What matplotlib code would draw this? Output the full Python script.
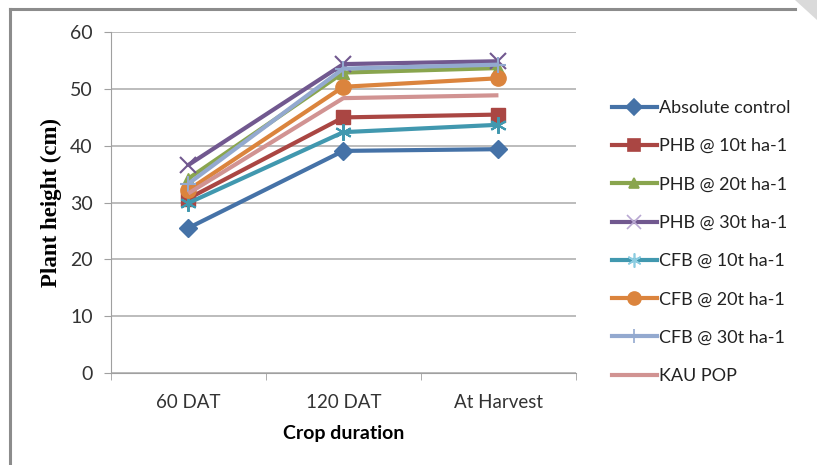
import matplotlib
matplotlib.use("Agg")
import matplotlib.pyplot as plt
from matplotlib.lines import Line2D
from matplotlib.patches import Polygon

categories = ["60 DAT", "120 DAT", "At Harvest"]
series_names = ["Absolute control", "PHB @ 10t ha-1", "PHB @ 20t ha-1", "PHB @ 30t ha-1",
                "CFB @ 10t ha-1", "CFB @ 20t ha-1", "CFB @ 30t ha-1", "KAU POP"]
absolute_control = [25.5, 39.1, 39.4]
phb_10 = [30.7, 45.0, 45.5]
phb_20 = [34.2, 52.9, 53.7]
phb_30 = [36.6, 54.4, 54.9]
cfb_10 = [29.9, 42.4, 43.7]
cfb_20 = [32.2, 50.4, 51.9]
cfb_30 = [33.3, 53.6, 54.3]
kau_pop = [31.6, 48.4, 48.9]
values = [absolute_control, phb_10, phb_20, phb_30, cfb_10, cfb_20, cfb_30, kau_pop]

colors = ["#4572A7", "#AA4643", "#89A54E", "#71588F", "#4198AF", "#DB843D", "#93A9CF", "#D19392"]
markers = ["D", "s", "^", "x", (6, 2, 0), "o", "+", None]
msizes = [9, 10, 9, 12, 12, 11, 12, 0]
mfc_legend = [None, None, None, "#B9A8D2", "#8CCCE0", None, None, None]

fig = plt.figure(figsize=(8.17, 4.65), dpi=100)
ax = fig.add_axes([0.1355, 0.1985, 0.5695, 0.732])

x = list(range(len(categories)))
for i, (name, vals) in enumerate(zip(series_names, values)):
    kw = dict(color=colors[i], lw=3, solid_capstyle="butt", zorder=3 + i)
    if markers[i] is not None:
        kw.update(marker=markers[i], markersize=msizes[i],
                  markeredgewidth=1.5 if markers[i] in ("x", "+") or isinstance(markers[i], tuple) else 1,
                  markeredgecolor=colors[i], markerfacecolor=colors[i])
    ax.plot(x, vals, **kw)

ax.set_xlim(-0.5, 2.5)
ax.set_ylim(0, 60)
ax.set_yticks(range(0, 61, 10))
ax.set_xticks(x)
ax.set_xticklabels(categories)
ax.set_xticks([-0.5, 0.5, 1.5, 2.5], minor=True)
ax.tick_params(axis="x", which="major", length=0, pad=15, labelsize=13.5, colors="#333333")
ax.tick_params(axis="x", which="minor", length=5, color="#A0A0A0")
ax.tick_params(axis="y", length=5, color="#A0A0A0", labelsize=14, colors="#333333", pad=8)
for lab in ax.get_xticklabels() + ax.get_yticklabels():
    lab.set_fontfamily("Lato")
ax.grid(axis="y", color="#B0B0B0", lw=1.2)
ax.set_axisbelow(True)
for s in ["top", "right"]:
    ax.spines[s].set_visible(False)
ax.spines["left"].set_color("#A0A0A0")
ax.spines["bottom"].set_color("#A0A0A0")

ax.set_xlabel("Crop duration", fontfamily="Lato", fontweight="bold", fontsize=14)
ax.set_ylabel("Plant height (cm)", fontfamily="Liberation Serif", fontweight="bold", fontsize=16.5)
ax.xaxis.set_label_coords(0.5, -0.154)
ax.yaxis.set_label_coords(-0.104, 0.5)

handles = []
for i in range(len(series_names)):
    m = markers[i]
    h = Line2D([0], [0], color=colors[i], lw=3,
               marker=m if m is not None else None,
               markersize=msizes[i] * 0.85 if m is not None else 0,
               markerfacecolor=mfc_legend[i] or colors[i],
               markeredgecolor=mfc_legend[i] or colors[i],
               markeredgewidth=1.2)
    handles.append(h)
leg = fig.legend(handles, series_names, loc="upper left", bbox_to_anchor=(0.729, 0.82),
                 frameon=False, prop={"family": "Lato", "size": 13}, labelspacing=1.235,
                 handlelength=2.5, handletextpad=0.12)
for t in leg.get_texts():
    t.set_color("#222222")

# outer chart frame
fig.add_artist(Line2D([10 / 817, 795 / 817], [1 - 9 / 465, 1 - 9 / 465], color="#8C8C8C", lw=2.2, transform=fig.transFigure))
fig.add_artist(Line2D([10 / 817, 10 / 817], [1 - 9 / 465, 0], color="#8C8C8C", lw=2.2, transform=fig.transFigure))
fig.add_artist(Polygon([[795 / 817, 1], [817 / 817, 1], [817 / 817, 1 - 20 / 465]], closed=True,
                       facecolor="#DADADA", edgecolor="none", transform=fig.transFigure))

fig.savefig("out.png", dpi=100)
